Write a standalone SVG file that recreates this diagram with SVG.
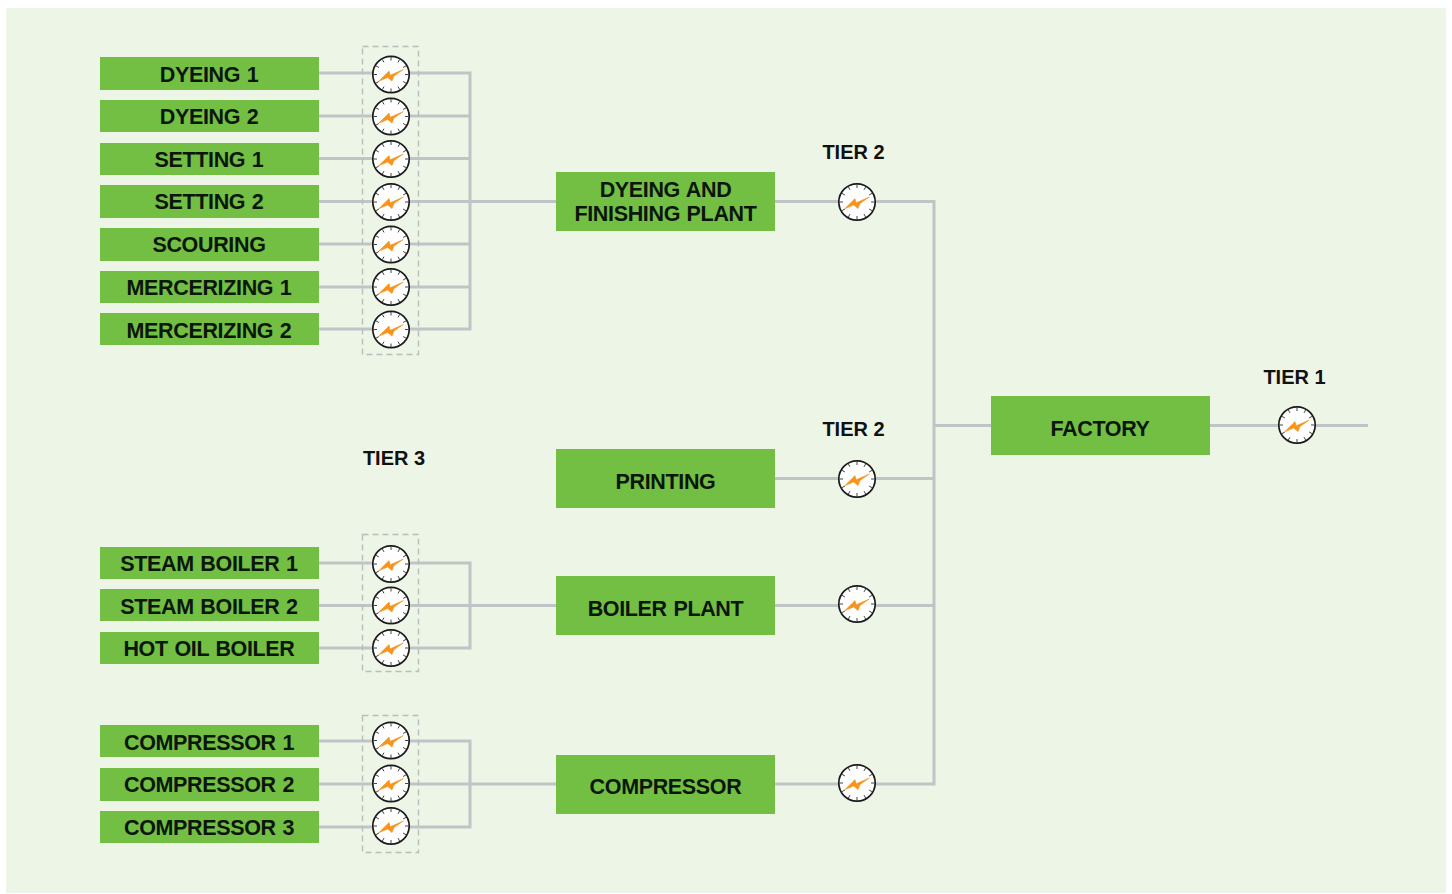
<svg xmlns="http://www.w3.org/2000/svg" xmlns:xlink="http://www.w3.org/1999/xlink" width="1452" height="894" viewBox="0 0 1452 894">
<style>
.n{fill:#72bf44}
.t{font-family:"Liberation Sans",Arial,sans-serif;font-weight:700;font-size:21.5px;fill:#0b160b;text-anchor:middle;letter-spacing:-.35px;word-spacing:1px}
.l{font-family:"Liberation Sans",Arial,sans-serif;font-weight:700;font-size:20px;fill:#111;text-anchor:middle}
.c path{fill:none;stroke:#c1c4c6;stroke-width:3}
.d{fill:none;stroke:#b9bdbb;stroke-width:1.4;stroke-dasharray:6 4}
</style>
<defs>
<g id="m">
<circle r="18.2" fill="#fff" stroke="#1a1a1a" stroke-width="1.7"/>
<path d="M0-17.5V-14M0 17.5V14M-17.5 0H-14M17.5 0H14M-8.7-15.1L-7-12.1M8.7-15.1L7-12.1M-8.7 15.1L-7 12.1M8.7 15.1L7 12.1M-15.1-8.7L-12.1-7M15.1-8.7L12.1-7M-15.1 8.7L-12.1 7M15.1 8.7L12.1 7" stroke="#444" stroke-width="1" fill="none"/>
<path d="M-12.3 6.8L-2-3.4L-.8 .8L12.3-5L3 1.6L1 6.6L-3.3 3Z" fill="#f7941d" stroke="#f7941d" stroke-width=".6" stroke-linejoin="round"/>
</g>
</defs>
<rect x="6" y="8" width="1440" height="885" fill="#edf5e7"/>
<g id="connectors" class="c">
<path d="M319 73H470V329H319M319 116H470M319 158.500H470M319 201.500H556M319 244H470M319 287H470"/>
<path d="M319 563H470V648H319M319 605.500H556"/>
<path d="M319 741H470V827H319M319 784H556"/>
<path d="M775 201.500H934V784H775M775 478.500H934M775 605.500H934M934 425.500H991M1210 425.500H1368"/>
</g>
<g id="tier3-boxes">
<rect class="d" x="362.500" y="46.500" width="56" height="308"/>
<rect class="d" x="362.500" y="534.500" width="56" height="137"/>
<rect class="d" x="362.500" y="715.500" width="56" height="137"/>
</g>
<g id="n1"><rect class="n" x="100" y="57" width="219" height="33"/><text class="t" x="209" y="82">DYEING 1</text><use xlink:href="#m" href="#m" x="391" y="74.500"/></g>
<g id="n2"><rect class="n" x="100" y="100" width="219" height="32"/><text class="t" x="209" y="124">DYEING 2</text><use xlink:href="#m" href="#m" x="391" y="116.500"/></g>
<g id="n3"><rect class="n" x="100" y="143" width="219" height="32"/><text class="t" x="209" y="167">SETTING 1</text><use xlink:href="#m" href="#m" x="391" y="159"/></g>
<g id="n4"><rect class="n" x="100" y="185" width="219" height="33"/><text class="t" x="209" y="209">SETTING 2</text><use xlink:href="#m" href="#m" x="391" y="202"/></g>
<g id="n5"><rect class="n" x="100" y="228" width="219" height="33"/><text class="t" x="209" y="252">SCOURING</text><use xlink:href="#m" href="#m" x="391" y="244.500"/></g>
<g id="n6"><rect class="n" x="100" y="271" width="219" height="32"/><text class="t" x="209" y="295">MERCERIZING 1</text><use xlink:href="#m" href="#m" x="391" y="287"/></g>
<g id="n7"><rect class="n" x="100" y="313" width="219" height="32"/><text class="t" x="209" y="338">MERCERIZING 2</text><use xlink:href="#m" href="#m" x="391" y="329.500"/></g>
<g id="n8"><rect class="n" x="100" y="547" width="219" height="32"/><text class="t" x="209" y="571">STEAM BOILER 1</text><use xlink:href="#m" href="#m" x="391" y="564"/></g>
<g id="n9"><rect class="n" x="100" y="589" width="219" height="32"/><text class="t" x="209" y="614">STEAM BOILER 2</text><use xlink:href="#m" href="#m" x="391" y="605.500"/></g>
<g id="n10"><rect class="n" x="100" y="632" width="219" height="32"/><text class="t" x="209" y="656">HOT OIL BOILER</text><use xlink:href="#m" href="#m" x="391" y="648"/></g>
<g id="n11"><rect class="n" x="100" y="725" width="219" height="32"/><text class="t" x="209" y="750">COMPRESSOR 1</text><use xlink:href="#m" href="#m" x="391" y="740.500"/></g>
<g id="n12"><rect class="n" x="100" y="768" width="219" height="33"/><text class="t" x="209" y="792">COMPRESSOR 2</text><use xlink:href="#m" href="#m" x="391" y="783.500"/></g>
<g id="n13"><rect class="n" x="100" y="811" width="219" height="32"/><text class="t" x="209" y="835">COMPRESSOR 3</text><use xlink:href="#m" href="#m" x="391" y="826"/></g>
<g id="dyeing-plant"><rect class="n" x="556" y="172" width="219" height="59"/><text class="t" x="665.500" y="197">DYEING AND</text><text class="t" x="665.500" y="221">FINISHING PLANT</text><use xlink:href="#m" href="#m" x="857" y="202"/></g>
<g id="printing"><rect class="n" x="556" y="449" width="219" height="59"/><text class="t" x="665.500" y="489">PRINTING</text><use xlink:href="#m" href="#m" x="857" y="479"/></g>
<g id="boiler"><rect class="n" x="556" y="576" width="219" height="59"/><text class="t" x="665.500" y="616">BOILER PLANT</text><use xlink:href="#m" href="#m" x="857" y="604"/></g>
<g id="compressor"><rect class="n" x="556" y="755" width="219" height="59"/><text class="t" x="665.500" y="794">COMPRESSOR</text><use xlink:href="#m" href="#m" x="857" y="783"/></g>
<g id="factory"><rect class="n" x="991" y="396" width="219" height="59"/><text class="t" x="1100" y="436">FACTORY</text><use xlink:href="#m" href="#m" x="1297" y="425"/></g>
<g id="labels">
<text class="l" x="853.500" y="158.500">TIER 2</text>
<text class="l" x="853.500" y="435.500">TIER 2</text>
<text class="l" x="1294.500" y="383.500">TIER 1</text>
<text class="l" x="394" y="464.500">TIER 3</text>
</g>
</svg>
